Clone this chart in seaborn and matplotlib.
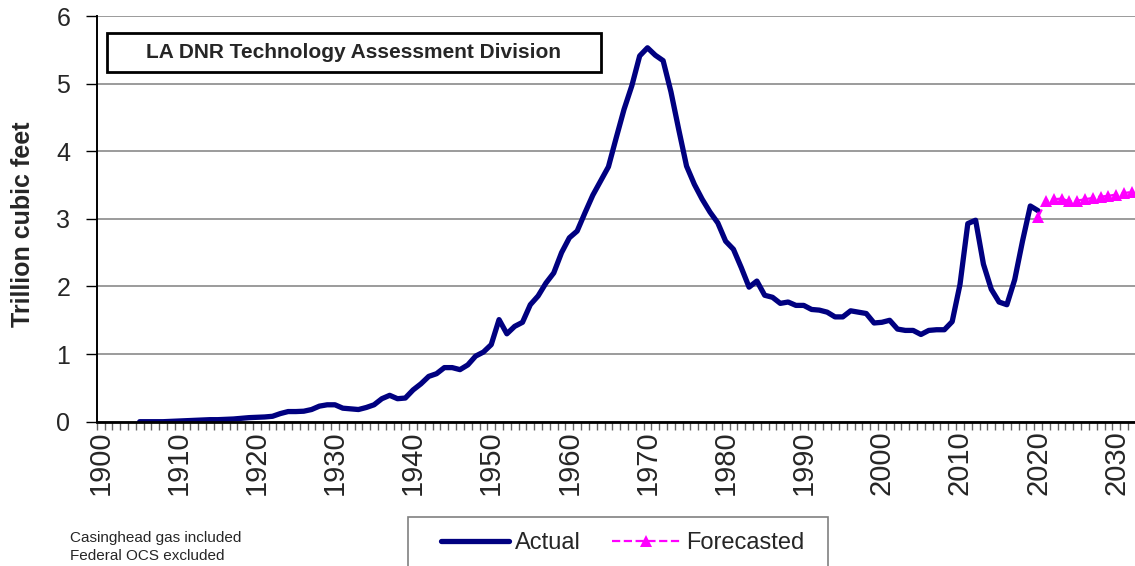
import numpy as np
import pandas as pd
import seaborn as sns
import matplotlib.pyplot as plt
from matplotlib.patches import Rectangle

# Louisiana (state) gas production, trillion cubic feet
actual_years = list(range(1905, 2021))
actual_tcf = [
    0.00, 0.00, 0.00, 0.00, 0.005,                                   # 1905-1909
    0.01, 0.015, 0.02, 0.025, 0.03, 0.03, 0.035, 0.04, 0.05, 0.06,   # 1910s
    0.065, 0.07, 0.08, 0.12, 0.15, 0.15, 0.155, 0.18, 0.23, 0.25,   # 1920s
    0.25, 0.20, 0.19, 0.18, 0.21, 0.25, 0.34, 0.39, 0.34, 0.35,     # 1930s
    0.47, 0.56, 0.67, 0.71, 0.80, 0.80, 0.77, 0.84, 0.97, 1.03,     # 1940s
    1.14, 1.51, 1.30, 1.41, 1.47, 1.73, 1.86, 2.05, 2.20, 2.50,     # 1950s
    2.72, 2.82, 3.09, 3.35, 3.56, 3.77, 4.20, 4.62, 4.97, 5.41,     # 1960s
    5.53, 5.42, 5.34, 4.88, 4.32, 3.78, 3.51, 3.29, 3.10, 2.94,     # 1970s
    2.67, 2.55, 2.28, 1.99, 2.08, 1.87, 1.84, 1.75, 1.77, 1.72,     # 1980s
    1.72, 1.66, 1.65, 1.62, 1.55, 1.55, 1.64, 1.62, 1.60, 1.46,     # 1990s
    1.47, 1.50, 1.37, 1.35, 1.35, 1.29, 1.35, 1.36, 1.36, 1.48,     # 2000s
    2.03, 2.93, 2.98, 2.33, 1.96, 1.77, 1.73, 2.10, 2.67, 3.19,     # 2010s
    3.12,                                                            # 2020
]
forecast_years = list(range(2020, 2033))
forecast_tcf = [3.03, 3.26, 3.29, 3.30, 3.26, 3.27, 3.29, 3.31, 3.33, 3.34,
                3.36, 3.38, 3.40]
decade_ticks = list(range(1900, 2031, 10))
y_ticks = [0, 1, 2, 3, 4, 5, 6]

sns.set_style('white')
plt.rcParams['font.family'] = ['Liberation Sans', 'DejaVu Sans']

W, H = 1135, 566
fig = plt.figure(figsize=(W / 100, H / 100), dpi=100)
ax = fig.add_axes([96.7 / W, (H - 421.7) / H, (W - 96.7) / W, 405.7 / H])

actual_df = pd.DataFrame({'year': actual_years, 'tcf': actual_tcf})
forecast_df = pd.DataFrame({'year': forecast_years, 'tcf': forecast_tcf})

sns.lineplot(data=actual_df, x='year', y='tcf', color='#000080',
             linewidth=3.8, solid_joinstyle='round', solid_capstyle='round',
             label='Actual', ax=ax)
sns.lineplot(data=forecast_df, x='year', y='tcf', color='#ff00ff',
             linewidth=1.6, linestyle='--', marker='^', markersize=9,
             markeredgewidth=0, label='Forecasted', ax=ax)

ax.set_xlim(1899.5, 2032.4)
ax.set_ylim(0, 6)
ax.set_xlabel('')
ax.set_ylabel('')

ax.set_yticks(y_ticks)
ax.set_yticklabels([str(v) for v in y_ticks], fontsize=18)
ax.tick_params(axis='y', direction='out', length=8, width=1, color='black',
               pad=11, left=True)

ax.set_xticks(decade_ticks)
ax.set_xticklabels([str(y) for y in decade_ticks], rotation=90, fontsize=21)
ax.set_xticks(np.arange(1899.5, 2032.5, 1), minor=True)
ax.tick_params(axis='x', which='major', length=0, pad=6)
ax.tick_params(axis='x', which='minor', direction='out', length=6, width=1,
               color='#666666', bottom=True)

ax.yaxis.grid(True, color='#808080', linewidth=1.1)
ax.set_axisbelow(True)
for side in ['top', 'right']:
    ax.spines[side].set_visible(False)
ax.spines['left'].set_color('black')
ax.spines['left'].set_linewidth(1.4)
ax.spines['bottom'].set_color('black')
ax.spines['bottom'].set_linewidth(2)

fig.text(23 / W, 1 - 224 / H, 'Trillion cubic feet', rotation=90,
         ha='center', va='center', fontsize=18, fontweight='bold')

# title box
fig.add_artist(Rectangle((106.7 / W, 1 - 71.7 / H), 494.3 / W, 38.4 / H,
                         transform=fig.transFigure, facecolor='white',
                         edgecolor='black', linewidth=2, zorder=3))
fig.text(353.5 / W, 1 - 52.5 / H, 'LA DNR Technology Assessment Division',
         ha='center', va='center', fontsize=15, fontweight='bold', zorder=4)

# legend, frame runs off the bottom of the picture
fig.add_artist(Rectangle((408 / W, -0.05), 420 / W, 0.05 + 1 - 517 / H,
                         transform=fig.transFigure, facecolor='white',
                         edgecolor='#808080', linewidth=1.2, zorder=3))
leg = ax.legend(loc='center left', bbox_to_anchor=(441 / W, 1 - 543 / H),
                bbox_transform=fig.transFigure, ncol=2, frameon=False,
                fontsize=17, handlelength=2.9, handletextpad=0.25,
                columnspacing=1.3, borderpad=0, borderaxespad=0)
leg.set_zorder(5)
leg.remove()
fig.add_artist(leg)

fig.text(70 / W, 1 - 538 / H, 'Casinghead gas included', fontsize=11,
         va='center')
fig.text(70 / W, 1 - 556 / H, 'Federal OCS excluded', fontsize=11,
         va='center')

fig.savefig('out.png', dpi=100)
